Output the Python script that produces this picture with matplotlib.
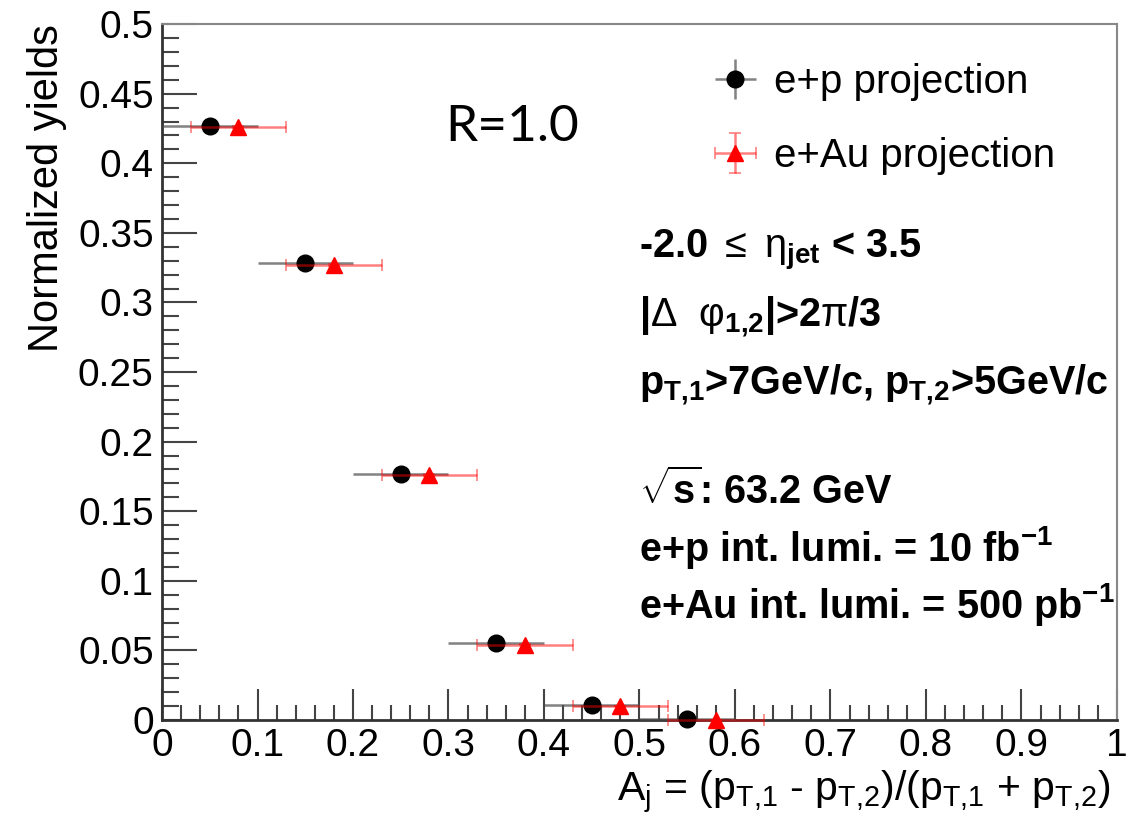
import matplotlib
matplotlib.use("Agg")
import matplotlib.pyplot as plt
from matplotlib.ticker import MultipleLocator

plt.rcParams['font.family'] = ['Liberation Sans', 'DejaVu Sans']
plt.rcParams['mathtext.fontset'] = 'custom'
plt.rcParams['mathtext.rm'] = 'Liberation Sans'
plt.rcParams['mathtext.it'] = 'Liberation Sans:italic'
plt.rcParams['mathtext.bf'] = 'Liberation Sans:bold'
plt.rcParams['mathtext.default'] = 'rm'

# binned A_j values
aj_ep = [0.05, 0.15, 0.25, 0.35, 0.45, 0.55]
aj_eau = [0.08, 0.18, 0.28, 0.38, 0.48, 0.58]
bin_half = [0.05, 0.05, 0.05, 0.05, 0.05, 0.05]
yield_ep = [0.427, 0.328, 0.177, 0.055, 0.011, 0.001]
yield_eau = [0.426, 0.327, 0.176, 0.054, 0.010, 0.0]
err_ep = [0.0008, 0.0007, 0.0006, 0.0004, 0.0002, 0.0001]
err_eau = [0.0008, 0.0007, 0.0006, 0.0004, 0.0002, 0.0001]

fig = plt.figure(figsize=(11.45, 8.3), dpi=100)
ax = fig.add_axes([0.1415, 0.1325, 0.834, 0.8385])

ep = ax.errorbar(aj_ep, yield_ep, xerr=bin_half, yerr=err_ep, fmt='o', color='black',
                 ms=12, ecolor=(0.3, 0.3, 0.3, 0.7), elinewidth=1.8, capsize=0, zorder=3,
                 clip_on=False, label='e+p projection')
eau = ax.errorbar(aj_eau, yield_eau, xerr=bin_half, yerr=err_eau, fmt='^', color='red',
                  ms=12, ecolor=(1, 0, 0, 0.5), elinewidth=1.8, capsize=4, capthick=1.2,
                  zorder=4, clip_on=False, label='e+Au projection')

ax.set_xlim(0, 1)
ax.set_ylim(0, 0.5)
ax.xaxis.set_minor_locator(MultipleLocator(0.02))
ax.yaxis.set_minor_locator(MultipleLocator(0.01))
ax.set_xticks([0, 0.1, 0.2, 0.3, 0.4, 0.5, 0.6, 0.7, 0.8, 0.9, 1])
ax.set_xticklabels(['0', '0.1', '0.2', '0.3', '0.4', '0.5', '0.6', '0.7', '0.8', '0.9', '1'])
ax.set_yticks([0, 0.05, 0.1, 0.15, 0.2, 0.25, 0.3, 0.35, 0.4, 0.45, 0.5])
ax.set_yticklabels(['0', '0.05', '0.1', '0.15', '0.2', '0.25', '0.3', '0.35', '0.4', '0.45', '0.5'])
ax.tick_params(which='both', direction='in', labelsize=28, color='#444444', width=1.5)
ax.tick_params(axis='x', which='major', length=22, pad=6)
ax.tick_params(axis='x', which='minor', length=11)
ax.tick_params(axis='y', which='major', length=25, pad=6)
ax.tick_params(axis='y', which='minor', length=12)
for s in ['left', 'bottom']:
    ax.spines[s].set_color('#333333')
    ax.spines[s].set_linewidth(2)
for s in ['right', 'top']:
    ax.spines[s].set_color('#888888')
    ax.spines[s].set_linewidth(1.5)

ax.set_ylabel('Normalized yields', fontsize=30, loc='top')
ax.yaxis.set_label_coords(-0.099, 1.0)
ax.set_xlabel(r'A$_{\rm j}$ = (p$_{\rm T{,}1}$ - p$_{\rm T{,}2}$)/(p$_{\rm T{,}1}$ + p$_{\rm T{,}2}$)',
              fontsize=29.5, loc='right')
ax.xaxis.set_label_coords(0.993, -0.07)

ax.legend(handles=[ep, eau], loc='upper left', bbox_to_anchor=(0.552, 0.967),
          frameon=False, fontsize=29, handlelength=1.5, handletextpad=0.2,
          labelspacing=0.9, borderaxespad=0)

ax.text(0.297, 0.426, 'R=1.0', fontsize=37, family=['Lato', 'DejaVu Sans'], va='center')

info = [
    r'-2.0 $\leq$ $\eta_{\mathbf{jet}}$ < 3.5',
    r'|$\Delta$  $\varphi_{\mathbf{1{,}2}}$|>2$\pi$/3',
    r'p$_{\mathbf{T{,}1}}$>7GeV/c, p$_{\mathbf{T{,}2}}$>5GeV/c',
    r'$\sqrt{\mathbf{s}}$: 63.2 GeV',
    r'e+p int. lumi. = 10 fb$^{\mathbf{-1}}$',
    r'e+Au int. lumi. = 500 pb$^{\mathbf{-1}}$',
]
info_y = [0.338, 0.29, 0.241, 0.165, 0.124, 0.083]
for t, y in zip(info, info_y):
    ax.text(0.499, y, t, fontsize=28.5, fontweight='bold', va='center')

fig.savefig('out.png', dpi=100)
